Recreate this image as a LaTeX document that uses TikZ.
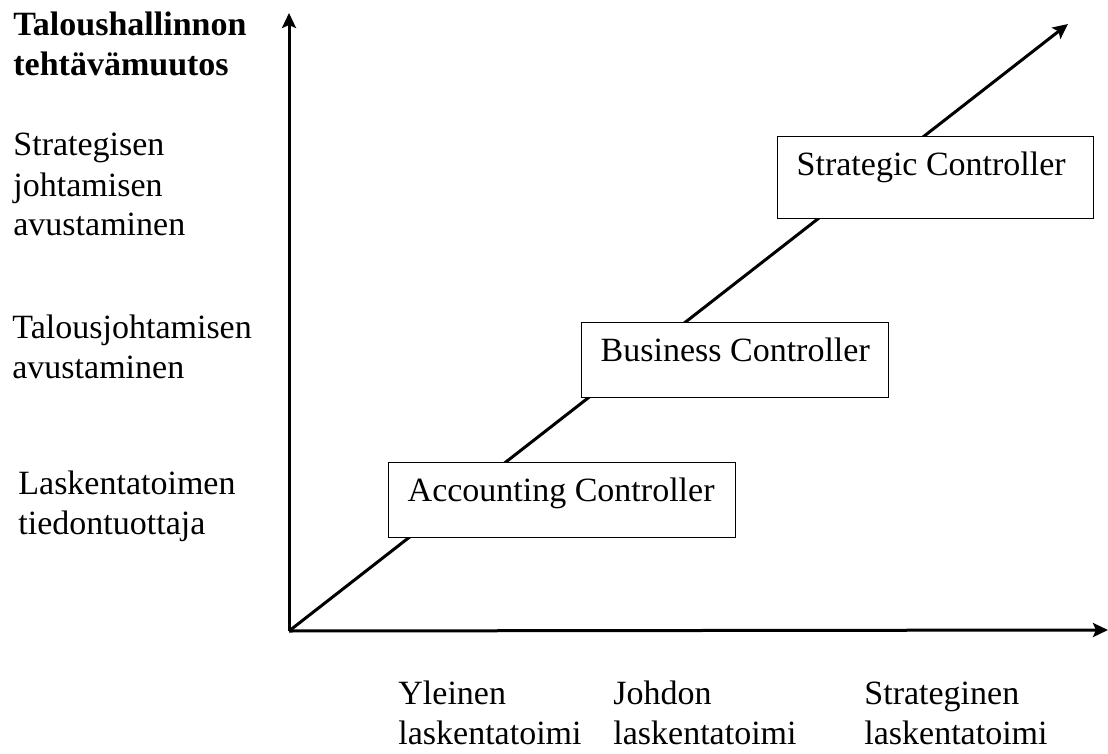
\documentclass[tikz,border=0pt]{standalone}
\usepackage{fontspec}
\setmainfont{Liberation Serif}
\usetikzlibrary{arrows.meta}

\begin{document}
\fontsize{17}{20}\selectfont
\begin{tikzpicture}[
    x=0.5pt, y=-0.5pt,
    >={Stealth[length=7.5pt, width=7pt, inset=1.5pt]},
    % Styles
    axis/.style={->, line width=1.5pt},
    level/.style={anchor=base west, align=left, inner sep=0pt},
    role/.style={rectangle, draw, line width=0.7pt, fill=white, anchor=north west,
                 align=flush left, inner sep=0pt, text height=19.5pt,
                 execute at begin node={\hspace*{9.5pt}}}
]
    \useasboundingbox (0,0) rectangle (1108,754);

    % 1. THE AXES (plus the diagonal trend)
    \coordinate (origin) at (289,631);
    \coordinate (ytip) at (289,13);
    \coordinate (xtip) at (1108,630);
    \coordinate (dtip) at (1068,24);
    \draw[axis] (origin) -- (ytip);
    \draw[axis] (origin) -- (xtip);
    \draw[axis] (origin) -- (dtip);

    % 2. VERTICAL AXIS LABELS (placed at the last baseline)
    \node[level, font=\bfseries] (ytitle) at (13,76) {Taloushallinnon\\tehtävämuutos};
    \node[level] (ystrat) at (13,236) {Strategisen\\johtamisen\\avustaminen};
    \node[level] (ytalous) at (12,378) {Talousjohtamisen\\avustaminen};
    \node[level] (ylask) at (18,534) {Laskentatoimen\\tiedontuottaja};

    % 3. HORIZONTAL AXIS LABELS
    \node[level] (xyleinen) at (398,744) {Yleinen\\laskentatoimi};
    \node[level] (xjohdon) at (613,744) {Johdon\\laskentatoimi};
    \node[level] (xstrat) at (864,744) {Strateginen\\laskentatoimi};

    % 4. THE CONTROLLER ROLES
    \node[role, text width=173.5pt, text depth=18pt] (acc) at (388,462) {Accounting Controller};
    \node[role, text width=153.5pt, text depth=18pt] (bus) at (581,322) {Business Controller};
    \node[role, text width=158pt, text depth=21.5pt] (strat) at (777,136) {Strategic Controller};

\end{tikzpicture}
\end{document}
